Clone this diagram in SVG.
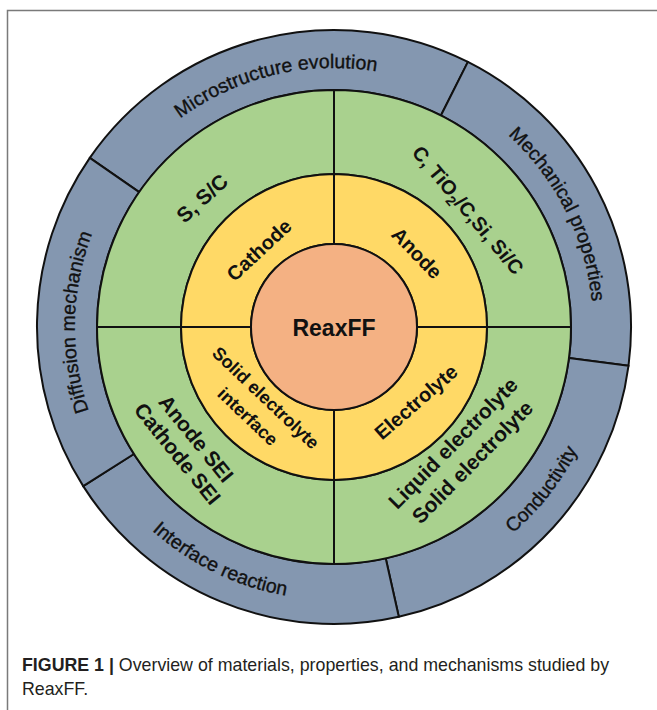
<svg xmlns="http://www.w3.org/2000/svg" width="657" height="710" viewBox="0 0 657 710">
  <style>
    .seg { stroke: #111; stroke-width: 2; stroke-linejoin: round; }
    .outer { fill: #8497B0; }
    .green { fill: #A9D18E; }
    .yellow { fill: #FFD966; }
    .core { fill: #F4B183; }
    .ring-label { font-family: "Liberation Sans", Arial, sans-serif; font-size: 19.5px; fill: #111; stroke: #111; stroke-width: 0.35; }
    .label { font-family: "Liberation Sans", Arial, sans-serif; font-weight: bold; fill: #111; text-anchor: middle; }
    .caption { font-family: "Liberation Sans", Arial, sans-serif; font-size: 17.8px; fill: #231f20; }
  </style>
  <defs>
    <!-- baselines for the outer ring labels (clockwise = tops outward, counter-clockwise = tops inward) -->
    <path id="arc-micro" d="M 85.7 253.4 A 259 259 0 0 1 521.9 148.7"/>
    <path id="arc-mech" d="M 348.9 68.4 A 259 259 0 0 1 550.5 469.2"/>
    <path id="arc-diff" d="M 200.2 548.8 A 259 259 0 0 1 208.8 100.2"/>
    <path id="arc-cond" d="M 296 597.4 A 273 273 0 0 0 587.1 224.7"/>
    <path id="arc-intf" d="M 61.7 346.1 A 273 273 0 0 0 486.7 553.3"/>
  </defs>

  <rect width="657" height="710" fill="#fff"/>
  <!-- figure frame -->
  <path d="M 7.5 710 V 10.5 H 657" fill="none" stroke="#7a7a7a" stroke-width="1.5"/>

  <!-- outer ring: properties and mechanisms -->
  <g id="microstructure-evolution">
    <path class="seg outer" d="M 89.8 157.9 A 297 297 0 0 1 467.9 61.9 L 440.9 115.5 A 237 237 0 0 0 139.2 192.1 Z"/>
    <text class="ring-label"><textPath href="#arc-micro" startOffset="50%" text-anchor="middle">Microstructure evolution</textPath></text>
  </g>
  <g id="mechanical-properties">
    <path class="seg outer" d="M 467.9 61.9 A 297 297 0 0 1 628.5 365.8 L 569 357.9 A 237 237 0 0 0 440.9 115.5 Z"/>
    <text class="ring-label"><textPath href="#arc-mech" startOffset="50%" text-anchor="middle">Mechanical properties</textPath></text>
  </g>
  <g id="conductivity">
    <path class="seg outer" d="M 628.5 365.8 A 297 297 0 0 1 398.8 616.8 L 385.7 558.3 A 237 237 0 0 0 569 357.9 Z"/>
    <text class="ring-label"><textPath href="#arc-cond" startOffset="50%" text-anchor="middle">Conductivity</textPath></text>
  </g>
  <g id="interface-reaction">
    <path class="seg outer" d="M 398.8 616.8 A 297 297 0 0 1 83.2 486.1 L 133.9 454 A 237 237 0 0 0 385.7 558.3 Z"/>
    <text class="ring-label"><textPath href="#arc-intf" startOffset="50%" text-anchor="middle">Interface reaction</textPath></text>
  </g>
  <g id="diffusion-mechanism">
    <path class="seg outer" d="M 83.2 486.1 A 297 297 0 0 1 89.8 157.9 L 139.2 192.1 A 237 237 0 0 0 133.9 454 Z"/>
    <text class="ring-label"><textPath href="#arc-diff" startOffset="50%" text-anchor="middle">Diffusion mechanism</textPath></text>
  </g>

  <!-- middle ring: materials -->
  <g id="cathode-materials">
    <path class="seg green" d="M 97 327 A 237 237 0 0 1 334 90 L 334 174 A 153 153 0 0 0 181 327 Z"/>
    <text class="label" font-size="21" transform="translate(202 198) rotate(-42)" y="7.5">S, S/C</text>
  </g>
  <g id="anode-materials">
    <path class="seg green" d="M 334 90 A 237 237 0 0 1 571 327 L 487 327 A 153 153 0 0 0 334 174 Z"/>
    <text class="label" font-size="20" transform="translate(468 210) rotate(50)" y="7">C, TiO<tspan font-size="14" dy="5">2</tspan><tspan dy="-5">/C,Si, Si/C</tspan></text>
  </g>
  <g id="electrolyte-materials">
    <path class="seg green" d="M 571 327 A 237 237 0 0 1 334 564 L 334 480 A 153 153 0 0 0 487 327 Z"/>
    <text class="label" font-size="21" transform="translate(462.5 452.5) rotate(-45.5)"><tspan x="0" y="-6">Liquid electrolyte</tspan><tspan x="0" y="21">Solid electrolyte</tspan></text>
  </g>
  <g id="sei-materials">
    <path class="seg green" d="M 334 564 A 237 237 0 0 1 97 327 L 181 327 A 153 153 0 0 0 334 480 Z"/>
    <text class="label" font-size="21" transform="translate(187 446) rotate(51)"><tspan x="0" y="-4.5">Anode SEI</tspan><tspan x="0" y="19.5">Cathode SEI</tspan></text>
  </g>

  <!-- inner ring: components -->
  <g id="cathode">
    <path class="seg yellow" d="M 181 327 A 153 153 0 0 1 334 174 L 334 244 A 83 83 0 0 0 251 327 Z"/>
    <text class="label" font-size="20" transform="translate(259 250) rotate(-43)" y="7">Cathode</text>
  </g>
  <g id="anode">
    <path class="seg yellow" d="M 334 174 A 153 153 0 0 1 487 327 L 417 327 A 83 83 0 0 0 334 244 Z"/>
    <text class="label" font-size="20" transform="translate(417 253) rotate(46)" y="7">Anode</text>
  </g>
  <g id="electrolyte">
    <path class="seg yellow" d="M 487 327 A 153 153 0 0 1 334 480 L 334 410 A 83 83 0 0 0 417 327 Z"/>
    <text class="label" font-size="20" transform="translate(416 402) rotate(-41)" y="7">Electrolyte</text>
  </g>
  <g id="solid-electrolyte-interface">
    <path class="seg yellow" d="M 334 480 A 153 153 0 0 1 181 327 L 251 327 A 83 83 0 0 0 334 410 Z"/>
    <text class="label" font-size="18" transform="translate(257 407) rotate(43.5)"><tspan x="0" y="-6.5">Solid electrolyte</tspan><tspan x="0" y="19.5">interface</tspan></text>
  </g>

  <!-- centre -->
  <g id="reaxff">
    <circle class="seg core" cx="334" cy="327" r="83"/>
    <text class="label" font-size="23" x="334" y="336">ReaxFF</text>
  </g>

  <!-- caption -->
  <text class="caption" x="22" y="671"><tspan font-weight="bold">FIGURE 1 |</tspan> Overview of materials, properties, and mechanisms studied by</text>
  <text class="caption" x="22" y="695">ReaxFF.</text>
</svg>
